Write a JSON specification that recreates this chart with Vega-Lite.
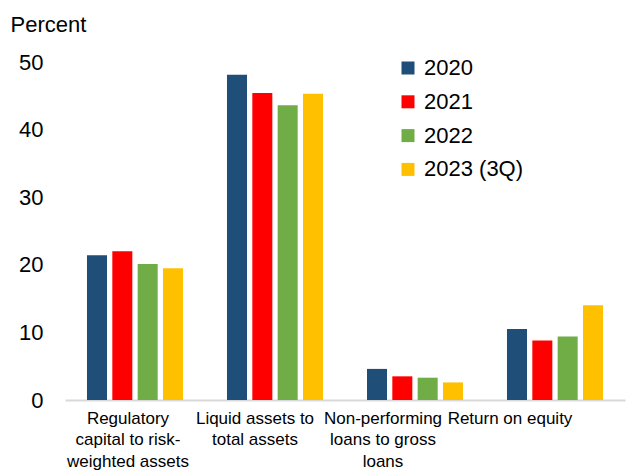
{
  "$schema": "https://vega.github.io/schema/vega-lite/v6.json",
  "autosize": "none",
  "width": 560,
  "height": 338,
  "padding": {"left": 65, "top": 62, "right": 9, "bottom": 74},
  "background": "white",
  "config": {
    "font": "Liberation Sans",
    "view": {"stroke": null},
    "axis": {"labelColor": "#000", "titleColor": "#000", "grid": false}
  },
  "data": {
    "values": [
      {"cat": "Regulatory|capital to risk-|weighted assets", "year": "2020", "value": 21.4},
      {"cat": "Regulatory|capital to risk-|weighted assets", "year": "2021", "value": 22.0},
      {"cat": "Regulatory|capital to risk-|weighted assets", "year": "2022", "value": 20.1},
      {"cat": "Regulatory|capital to risk-|weighted assets", "year": "2023 (3Q)", "value": 19.5},
      {"cat": "Liquid assets to|total assets", "year": "2020", "value": 48.1},
      {"cat": "Liquid assets to|total assets", "year": "2021", "value": 45.4},
      {"cat": "Liquid assets to|total assets", "year": "2022", "value": 43.6},
      {"cat": "Liquid assets to|total assets", "year": "2023 (3Q)", "value": 45.3},
      {"cat": "Non-performing|loans to gross|loans", "year": "2020", "value": 4.6},
      {"cat": "Non-performing|loans to gross|loans", "year": "2021", "value": 3.5},
      {"cat": "Non-performing|loans to gross|loans", "year": "2022", "value": 3.3},
      {"cat": "Non-performing|loans to gross|loans", "year": "2023 (3Q)", "value": 2.6},
      {"cat": "Return on equity", "year": "2020", "value": 10.5},
      {"cat": "Return on equity", "year": "2021", "value": 8.8},
      {"cat": "Return on equity", "year": "2022", "value": 9.4},
      {"cat": "Return on equity", "year": "2023 (3Q)", "value": 14.0}
    ]
  },
  "mark": {"type": "bar"},
  "encoding": {
    "x": {
      "field": "cat",
      "type": "nominal",
      "sort": null,
      "scale": {"paddingInner": 0.314, "paddingOuter": 0.157},
      "axis": {
        "title": null,
        "labelAngle": 0,
        "labelExpr": "split(datum.label, '|')",
        "labelFontSize": 17,
        "labelLineHeight": 21.5,
        "labelBaseline": "top",
        "labelPadding": 10,
        "labelOffset": {
          "condition": [
            {"test": "indexof(datum.value, 'Regulatory') == 0", "value": -7},
            {"test": "indexof(datum.value, 'Liquid') == 0", "value": -20},
            {"test": "indexof(datum.value, 'Non-') == 0", "value": -32}
          ],
          "value": -45
        },
        "ticks": false,
        "domainColor": "#d9d9d9",
        "domainWidth": 2,
        "labelLimit": 200
      }
    },
    "xOffset": {
      "field": "year",
      "type": "nominal",
      "scale": {"paddingInner": 0.21, "paddingOuter": 0}
    },
    "y": {
      "field": "value",
      "type": "quantitative",
      "scale": {"domain": [0, 50], "nice": false},
      "axis": {
        "title": "Percent",
        "titleAngle": 0,
        "titleAlign": "left",
        "titleBaseline": "alphabetic",
        "titleX": -55,
        "titleY": -31,
        "titleFontSize": 22,
        "titleFontWeight": "normal",
        "values": [0, 10, 20, 30, 40, 50],
        "labelFontSize": 22,
        "labelPadding": 22,
        "ticks": false,
        "domain": false
      }
    },
    "color": {
      "field": "year",
      "type": "nominal",
      "scale": {
        "domain": ["2020", "2021", "2022", "2023 (3Q)"],
        "range": ["#1F4E79", "#FF0000", "#70AD47", "#FFC000"]
      },
      "legend": {
        "title": null,
        "orient": "none",
        "legendX": 332,
        "legendY": -5,
        "symbolType": "square",
        "symbolSize": 169,
        "symbolStrokeWidth": 0,
        "symbolOpacity": 1,
        "labelFontSize": 22,
        "labelColor": "#000",
        "labelOffset": 5,
        "rowPadding": 11.8,
        "padding": 0
      }
    }
  }
}
